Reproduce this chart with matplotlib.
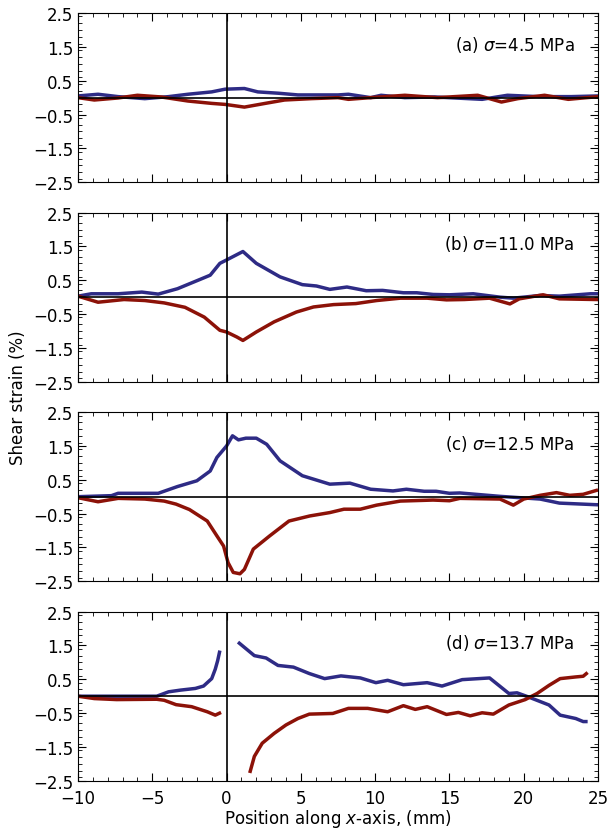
import matplotlib.pyplot as plt
from matplotlib.ticker import MultipleLocator

# panel labels
labels = ["(a) $\\sigma$=4.5 MPa", "(b) $\\sigma$=11.0 MPa",
          "(c) $\\sigma$=12.5 MPa", "(d) $\\sigma$=13.7 MPa"]

# (a) 4.5 MPa
a_blue_x = [-10, -8.65, -7.3, -5.5, -3.9, -2.6, -1.0, -0.1, 1.2, 2.1, 3.5, 4.8, 6.15, 7.5,
            8.2, 9.7, 10.4, 12.0, 14.0, 17.2, 18.9, 21.0, 23.2, 25]
a_blue_y = [0.05, 0.1, 0.03, -0.03, 0.03, 0.1, 0.17, 0.25, 0.27, 0.17, 0.13, 0.08, 0.08, 0.08,
            0.1, 0.0, 0.07, 0.0, 0.02, -0.05, 0.07, 0.03, 0.03, 0.05]
a_red_x = [-10, -8.9, -7.3, -6.0, -4.4, -2.6, -1.0, -0.1, 1.2, 2.6, 3.9, 5.7, 7.5, 8.2, 9.7,
           12.0, 14.2, 16.9, 18.5, 19.6, 21.4, 23.0, 25]
a_red_y = [0.0, -0.07, -0.01, 0.07, 0.02, -0.1, -0.17, -0.2, -0.28, -0.17, -0.07, -0.03, 0.0,
           -0.05, 0.0, 0.07, 0.0, 0.07, -0.13, -0.03, 0.07, -0.05, 0.03]

# (b) 11.0 MPa
b_blue_x = [-10, -9.1, -7.3, -5.7, -4.6, -3.3, -1.7, -1.1, -0.45, 0.0, 1.1, 2.0, 3.6, 5.1,
            6.05, 6.95, 8.1, 9.4, 10.5, 11.9, 12.8, 13.9, 15.0, 16.6, 18.4, 19.3, 21.1, 22.4,
            24.5, 25]
b_blue_y = [0.03, 0.1, 0.1, 0.15, 0.09, 0.25, 0.54, 0.65, 1.0, 1.1, 1.35, 1.0, 0.6, 0.37,
            0.33, 0.23, 0.3, 0.19, 0.2, 0.13, 0.13, 0.08, 0.07, 0.1, 0.0, -0.03, 0.05, 0.03,
            0.1, 0.1]
b_red_x = [-10, -8.65, -6.9, -5.5, -4.2, -2.8, -1.5, -0.45, 0.0, 0.7, 1.1, 2.0, 3.2, 4.7,
           5.85, 7.2, 8.7, 10.1, 11.7, 13.5, 14.8, 16.0, 17.7, 19.07, 19.7, 21.3, 22.4, 24.9, 25]
b_red_y = [0.03, -0.15, -0.07, -0.1, -0.17, -0.3, -0.59, -0.98, -1.03, -1.18, -1.28, -1.03,
           -0.73, -0.44, -0.29, -0.22, -0.19, -0.1, -0.03, -0.03, -0.08, -0.07, -0.03, -0.2,
           -0.05, 0.07, -0.05, -0.07, -0.07]

# (c) 12.5 MPa
c_blue_x = [-10, -7.75, -7.3, -4.6, -3.3, -2.0, -1.1, -0.65, 0.0, 0.4, 0.8, 1.3, 2.0, 2.7,
            3.6, 5.1, 6.95, 8.3, 9.7, 11.2, 12.1, 13.3, 14.1, 15.0, 15.7, 18.4, 21.1, 22.4, 25]
c_blue_y = [0.0, 0.03, 0.1, 0.1, 0.3, 0.47, 0.76, 1.16, 1.5, 1.8, 1.68, 1.73, 1.73, 1.55,
            1.06, 0.62, 0.37, 0.4, 0.22, 0.17, 0.22, 0.16, 0.16, 0.1, 0.11, 0.01, -0.07, -0.19,
            -0.24]
c_red_x = [-10, -8.65, -7.3, -5.5, -4.2, -3.4, -2.5, -1.3, -0.65, -0.2, 0.1, 0.45, 0.9, 1.2,
           1.8, 2.9, 4.2, 5.6, 6.95, 7.9, 9.0, 10.1, 11.7, 13.9, 15.0, 15.7, 18.4, 19.3, 20.0,
           21.1, 22.2, 23.1, 24.0, 25]
c_red_y = [-0.03, -0.15, -0.05, -0.07, -0.13, -0.22, -0.38, -0.72, -1.16, -1.46, -1.95, -2.24,
           -2.28, -2.15, -1.55, -1.16, -0.72, -0.57, -0.47, -0.37, -0.37, -0.25, -0.13, -0.1,
           -0.12, -0.05, -0.07, -0.25, -0.07, 0.04, 0.12, 0.04, 0.07, 0.2]

# (d) 13.7 MPa, two pieces each side of the gap
d_blue_x1 = [-10, -8, -6, -4.7, -3.9, -3.1, -2.1, -1.55, -1.0, -0.76, -0.6, -0.45]
d_blue_y1 = [0.0, 0.0, 0.0, 0.0, 0.13, 0.18, 0.23, 0.3, 0.52, 0.8, 1.05, 1.35]
d_blue_x2 = [0.77, 1.87, 2.66, 3.46, 4.5, 5.57, 6.6, 7.7, 9.0, 10.05, 10.84, 11.9, 13.5, 14.5,
             15.86, 17.7, 19.0, 19.55, 20.3, 21.7, 22.45, 23.5, 24.0, 24.3]
d_blue_y2 = [1.6, 1.2, 1.13, 0.91, 0.86, 0.67, 0.52, 0.6, 0.54, 0.4, 0.47, 0.34, 0.4, 0.3,
             0.49, 0.54, 0.08, 0.1, -0.02, -0.26, -0.56, -0.66, -0.75, -0.75]
d_red_x1 = [-10, -8.9, -7.4, -4.7, -4.2, -3.4, -2.35, -1.3, -0.76, -0.37]
d_red_y1 = [0.0, -0.07, -0.1, -0.09, -0.12, -0.25, -0.31, -0.46, -0.56, -0.48]
d_red_x2 = [1.56, 1.87, 2.4, 3.2, 4.0, 4.8, 5.57, 7.15, 8.2, 9.5, 10.84, 11.9, 12.7, 13.5,
            14.8, 15.6, 16.4, 17.2, 17.95, 19.0, 20.1, 20.9, 21.7, 22.45, 23.5, 24.0, 24.3]
d_red_y2 = [-2.27, -1.78, -1.39, -1.1, -0.85, -0.66, -0.53, -0.51, -0.36, -0.36, -0.46, -0.28,
            -0.39, -0.31, -0.54, -0.48, -0.58, -0.49, -0.53, -0.26, -0.1, 0.08, 0.32, 0.52,
            0.57, 0.59, 0.7]

blue = '#2e2b85'
red = '#8c1208'

panels = [
    [(a_blue_x, a_blue_y, blue), (a_red_x, a_red_y, red)],
    [(b_blue_x, b_blue_y, blue), (b_red_x, b_red_y, red)],
    [(c_blue_x, c_blue_y, blue), (c_red_x, c_red_y, red)],
    [(d_blue_x1, d_blue_y1, blue), (d_blue_x2, d_blue_y2, blue),
     (d_red_x1, d_red_y1, red), (d_red_x2, d_red_y2, red)],
]

plt.rcParams['font.family'] = 'DejaVu Sans'
plt.rcParams['mathtext.fontset'] = 'dejavusans'

fig, axes = plt.subplots(4, 1, figsize=(6.14, 8.29), dpi=100, sharex=True)
fig.subplots_adjust(left=0.127, right=0.974, top=0.983, bottom=0.057, hspace=0.18)

for ax, lines, lab in zip(axes, panels, labels):
    for x, y, c in lines:
        ax.plot(x, y, color=c, lw=2.5, solid_capstyle='butt')
    ax.axhline(0, color='k', lw=1.2, zorder=3)
    ax.axvline(0, color='k', lw=1.2, zorder=3)
    ax.set_xlim(-10, 25)
    ax.set_ylim(-2.5, 2.5)
    ax.set_yticks([-2.5, -1.5, -0.5, 0.5, 1.5, 2.5])
    ax.set_yticklabels(['\u22122.5', '\u22121.5', '\u22120.5', '0.5', '1.5', '2.5'])
    ax.xaxis.set_major_locator(MultipleLocator(5))
    ax.xaxis.set_minor_locator(MultipleLocator(1))
    ax.yaxis.set_minor_locator(MultipleLocator(0.2))
    ax.tick_params(which='both', direction='in', top=True, right=True, labelsize=12)
    ax.tick_params(which='major', length=6)
    ax.tick_params(which='minor', length=3)
    ax.tick_params(axis='x', pad=6)
    ax.text(0.955, 0.82, lab, transform=ax.transAxes, ha='right', va='center', fontsize=12)

axes[-1].set_xlabel("Position along $x$-axis, (mm)", fontsize=12, labelpad=0)
fig.text(0.03, 0.52, "Shear strain (%)", rotation=90, va='center', ha='center', fontsize=12)

plt.savefig("out.png", dpi=100)
